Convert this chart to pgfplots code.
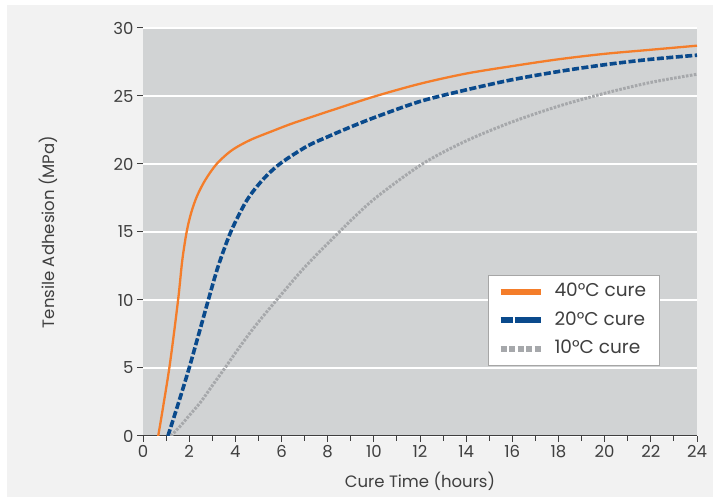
\documentclass[border=0pt]{standalone}
\usepackage{fontspec}
\setmainfont{Poppins}
\usepackage{pgfplots}
\pgfplotsset{compat=1.18}
\definecolor{outerbg}{HTML}{F2F2F2}
\definecolor{plotbg}{HTML}{D1D3D4}
\definecolor{corange}{HTML}{F47D2A}
\definecolor{cblue}{HTML}{0A4A8C}
\definecolor{cgray}{HTML}{A6A8AB}
\definecolor{txt}{HTML}{3F3F3F}
\begin{document}
\begin{tikzpicture}[x=1pt,y=1pt]
\fill[white] (0,0) rectangle (717,497);
\fill[outerbg] (7,0) rectangle (713,492);
\useasboundingbox (0,0) rectangle (717,497);
\begin{axis}[
  at={(143pt,61pt)}, anchor=south west,
  scale only axis, width=554pt, height=408pt,
  xmin=0, xmax=24, ymin=0, ymax=30,
  xtick={0,2,...,24}, ytick={0,5,...,30},
  minor x tick num=1,
  axis x line*=bottom, axis y line*=left,
  x axis line style={-, draw=txt, line width=1pt},
  y axis line style={-, draw=none},
  tick align=outside,
  major tick length=6pt, minor tick length=5pt,
  every tick/.style={draw=txt, line width=1pt},
  axis background/.style={fill=plotbg},
  ymajorgrids, major grid style={draw=white, line width=1.3pt},
  /pgf/number format/assume math mode=true,
  tick label style={font=\fontsize{16.5}{19}\selectfont, text=txt},
  xlabel={Cure Time (hours)},
  ylabel={Tensile Adhesion (MPa)},
  every axis x label/.style={at={(axis description cs:0.5,-0.110)}, anchor=center,
    font=\fontsize{16.5}{19}\selectfont, text=txt},
  every axis y label/.style={at={(axis description cs:-0.1715,0.5)}, anchor=center, rotate=90,
    font=\fontsize{16.5}{19}\selectfont, text=txt},
  legend style={at={(0.623,0.3946)}, anchor=north west, fill=white, draw=gray!70, line width=0.8pt,
    font=\fontsize{18.5}{21}\selectfont, text=txt, row sep=8.5pt, column sep=7pt,
    inner xsep=9pt, inner ysep=6.5pt,
    nodes={inner xsep=2pt, inner ysep=2pt, text height=13pt, text depth=3pt},
    /tikz/every even column/.append style={nodes={inner xsep=4pt}}},
  legend cell align=left,
  legend image code/.code={\draw[#1] (0pt,0pt) -- (40pt,0pt);},
]
\addplot[corange, line width=2.3pt, smooth, tension=0.5,
  legend image post style={line width=6pt}] coordinates {
(0.66,0)(1.14,5)(1.52,10)(1.70,12.9)(1.89,15)(2.08,16.37)(2.33,17.6)(2.69,18.8)(3.19,20)(3.84,21.0)(4.64,21.76)(5.65,22.45)(6.5,23.0)(8,23.85)(10,24.95)(12,25.9)(14,26.65)(16,27.2)(18,27.7)(20,28.1)(22,28.4)(24,28.7)};
\addlegendentry{40°C cure}
\addplot[cblue, line width=3.6pt, dash pattern=on 7pt off 2.5pt, smooth, tension=0.5,
  legend image post style={line width=6pt, dash pattern=on 12pt off 2pt on 26pt off 2pt}] coordinates {
(1.08,0)(1.55,2.5)(2.0,5)(2.4,7.4)(2.83,10)(3.26,12.5)(3.8,15)(4.4,17.05)(4.82,18.1)(5.36,19.15)(6.0,20.1)(7.1,21.3)(8,22.0)(8.75,22.55)(10,23.4)(12,24.6)(14,25.45)(16,26.2)(18,26.8)(20,27.3)(22,27.7)(24,28.0)};
\addlegendentry{20°C cure}
\addplot[cgray, line width=3pt, dash pattern=on 2.6pt off 1.4pt, smooth, tension=0.5,
  legend image post style={line width=6pt, dash pattern=on 6pt off 2.5pt}] coordinates {
(1.2,0)(1.6,0.7)(2,1.5)(2.5,2.5)(3,3.7)(3.55,5)(4,6.1)(4.64,7.6)(5.2,8.8)(5.79,10)(7,12.4)(8.5,15)(10,17.4)(12.1,20)(14,21.7)(16,23.1)(18,24.25)(20,25.2)(22,26.0)(24,26.6)};
\addlegendentry{10°C cure}
\end{axis}
\end{tikzpicture}
\end{document}
